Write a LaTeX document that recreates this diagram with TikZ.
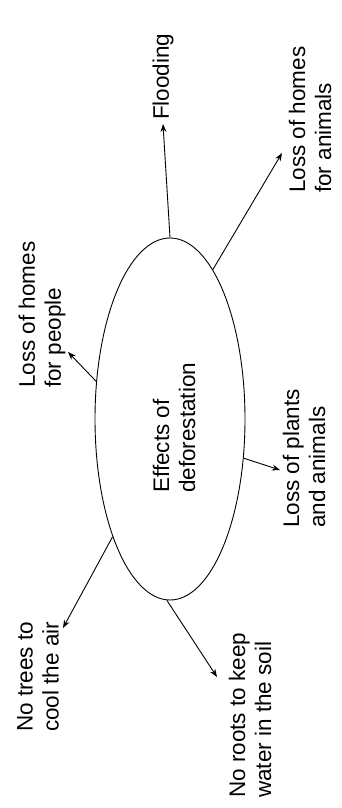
\documentclass[tikz,border=0pt]{standalone}
\usepackage{fontspec}
\setmainfont{Liberation Sans}
\usetikzlibrary{shapes.geometric,arrows.meta}
\begin{document}
\begin{tikzpicture}[x=1pt,y=-1pt,
  lbl/.style={rotate=90,anchor=west,align=left,inner sep=0pt,
    font=\fontsize{22.5}{26}\selectfont},
  arr/.style={line width=0.9pt,-{Stealth[length=8pt,width=6pt]}}]
\useasboundingbox (0,0) rectangle (342,808);
\node[draw,ellipse,line width=0.9pt,minimum width=150pt,minimum height=362pt,inner sep=0pt] (ell) at (170,419) {};
\node[lbl] (eff) at (174,493) {Effects of\\deforestation};
\node[lbl] (flood) at (163,120) {Flooding};
\node[lbl] (anim) at (310,193) {Loss of homes\\for animals};
\node[lbl] (peop) at (42,388) {Loss of homes\\for people};
\node[lbl] (plant) at (304,528) {Loss of plants\\and animals};
\node[lbl] (trees) at (38,732) {No trees to\\cool the air};
\node[lbl] (roots) at (250,798) {No roots to keep\\water in the soil};
\coordinate (tflood) at (163,124);
\coordinate (tanim) at (282,153);
\coordinate (tpeop) at (68,352);
\coordinate (tplant) at (280,470);
\coordinate (ttrees) at (63,628);
\coordinate (troots) at (217,677);
\draw[arr] (ell.90) -- (tflood);
\draw[arr] (ell.74.5) -- (tanim);
\draw[arr] (ell.153) -- (tpeop);
\draw[arr] (ell.-28.7) -- (tplant);
\draw[arr] (ell.244.8) -- (ttrees);
\draw[arr] (ell.269.4) -- (troots);
\end{tikzpicture}
\end{document}
